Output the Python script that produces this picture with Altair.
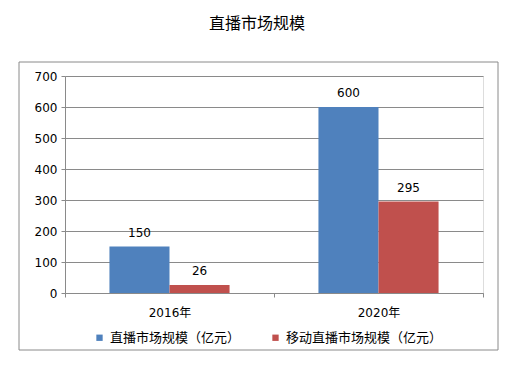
import altair as alt
import pandas as pd

years = ["2016年", "2020年"]
series = ["直播市场规模（亿元）", "移动直播市场规模（亿元）"]
live_market = [150, 600]
mobile_live_market = [26, 295]
colors = ["#4F81BD", "#C0504D"]

rows = []
for i, y in enumerate(years):
    rows.append({"year": y, "series": series[0], "value": live_market[i]})
    rows.append({"year": y, "series": series[1], "value": mobile_live_market[i]})
df = pd.DataFrame(rows)

FONT = "DejaVu Sans, Noto Sans CJK SC, sans-serif"
GRAY = "#8a8a8a"

x_enc = alt.X(
    "year:N",
    sort=years,
    title=None,
    scale=alt.Scale(paddingInner=0, paddingOuter=0),
    axis=alt.Axis(
        labelAngle=0, tickBand="extent", tickSize=4, labelPadding=10, grid=False,
        domainColor=GRAY, tickColor=GRAY, labelFontSize=12, labelColor="#000",
        labelFont=FONT,
    ),
)
xo_enc = alt.XOffset("series:N", sort=series,
                     scale=alt.Scale(paddingInner=0, paddingOuter=0.74))
y_enc = alt.Y(
    "value:Q",
    title=None,
    scale=alt.Scale(domain=[0, 700], nice=False),
    axis=alt.Axis(
        values=[0, 100, 200, 300, 400, 500, 600, 700], tickSize=4, labelOverlap=False,
        labelPadding=4, domainColor=GRAY, tickColor=GRAY, gridColor=GRAY,
        labelFontSize=12, labelColor="#000", labelFont=FONT,
    ),
)

base = alt.Chart(df).encode(x=x_enc, xOffset=xo_enc, y=y_enc)

border = alt.Chart(pd.DataFrame({"a": [0]})).mark_rect(
    fillOpacity=0, stroke=GRAY, strokeWidth=1, clip=False
).encode(x=alt.value(-46), x2=alt.value(433), y=alt.value(-14), y2=alt.value(274))

bars = base.mark_bar().encode(
    color=alt.Color(
        "series:N",
        sort=series,
        scale=alt.Scale(domain=series, range=colors),
        legend=alt.Legend(
            title=None, orient="none", direction="horizontal",
            legendX=28, legendY=255, symbolType="square", symbolSize=40,
            symbolStrokeWidth=0, labelFontSize=13, labelFont=FONT,
            labelColor="#000", columnPadding=28, labelOffset=4,
        ),
    ),
)

labels = base.mark_text(baseline="bottom", dy=-7, fontSize=12, font=FONT, color="#000").encode(
    text="value:Q",
)

chart = alt.layer(border, bars, labels).properties(
    width=418,
    height=217,
    title=alt.TitleParams("直播市场规模", fontSize=16, font=FONT, fontWeight="normal",
                          color="#000", anchor="middle", dx=-17, offset=30),
    autosize=alt.AutoSizeParams(type="none"),
    padding={"left": 65, "top": 76, "right": 37, "bottom": 72},
).configure_view(stroke="transparent", strokeWidth=0).configure(background="white")

chart.save("out.html", embed_options={"renderer": "svg", "actions": False})
